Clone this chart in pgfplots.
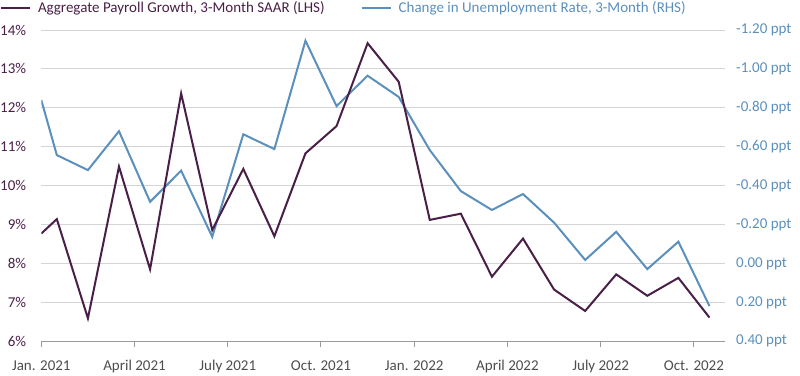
\documentclass[border=0pt]{standalone}
\usepackage{pgfplots}
\pgfplotsset{compat=1.18}
\usepackage{fontspec}
\setmainfont{Carlito}
\definecolor{plum}{HTML}{4A1F47}
\definecolor{steel}{HTML}{5B8FBC}
\definecolor{gridc}{HTML}{D4D4D4}
\definecolor{axc}{HTML}{9A9A9A}
\definecolor{labc}{HTML}{4D4D4D}

\pgfplotstableread{
x y
0 8.77
0.5 9.14
1.5 6.59
2.5 10.49
3.5 7.85
4.5 12.37
5.5 8.86
6.5 10.43
7.5 8.70
8.5 10.83
9.5 11.53
10.5 13.66
11.5 12.67
12.5 9.12
13.5 9.28
14.5 7.66
15.5 8.64
16.5 7.33
17.5 6.78
18.5 7.72
19.5 7.17
20.5 7.63
21.5 6.61
}\payroll

\pgfplotstableread{
x y
0 -0.84
0.5 -0.557
1.5 -0.48
2.5 -0.68
3.5 -0.317
4.5 -0.477
5.5 -0.137
6.5 -0.664
7.5 -0.588
8.5 -1.145
9.5 -0.809
10.5 -0.965
11.5 -0.856
12.5 -0.583
13.5 -0.372
14.5 -0.275
15.5 -0.357
16.5 -0.21
17.5 -0.018
18.5 -0.163
19.5 0.029
20.5 -0.112
21.5 0.219
}\unemp

\begin{document}
\begin{tikzpicture}
\pgfplotsset{
  base/.style={
    scale only axis, width=683.7pt, height=311.3pt,
    at={(0pt,0pt)}, anchor=south west,
    xmin=0, xmax=22,
    tick label style={font=\fontsize{15}{17}\selectfont, inner sep=0pt},
  }
}
% Axis A: left scale, grid, x axis
\begin{axis}[base,
  ymin=6, ymax=14,
  axis x line*=bottom, axis y line*=left,
  y axis line style={draw=none},
  x axis line style={draw=axc, line width=1pt},
  ytick={6,7,...,14},
  yticklabels={6\%,7\%,8\%,9\%,10\%,11\%,12\%,13\%,14\%},
  yticklabel style={text=plum},
  ytick style={draw=none},
  yticklabel shift=9pt,
  xtick={0,3,...,21},
  xticklabels={Jan. 2021,April 2021,July 2021,Oct. 2021,Jan. 2022,April 2022,July 2022,Oct. 2022},
  xticklabel style={text=labc},
  xtick pos=bottom,
  tick align=outside,
  major tick length=6pt,
  xtick style={draw=axc, line width=1pt},
  xticklabel shift=13pt,
  ymajorgrids,
  grid style={draw=gridc, line width=1pt},
  legend style={draw=none, fill=none, inner sep=0pt, outer sep=0pt,
    at={(-0.0604,1.0707)}, anchor=west,
    font=\fontsize{15}{17}\selectfont,
    nodes={inner sep=0pt},
    /tikz/every odd column/.append style={column sep=7pt},
    /tikz/every even column/.append style={column sep=36pt}},
  legend columns=2,
  legend image code/.code={\draw[#1] (0pt,0pt) -- (29pt,0pt);},
]
\addlegendimage{plum, line width=2pt}
\addlegendentry{\textcolor{plum}{Aggregate Payroll Growth, 3-Month SAAR (LHS)}}
\addlegendimage{steel, line width=2pt}
\addlegendentry{\textcolor{steel}{Change in Unemployment Rate, 3-Month (RHS)}}
\end{axis}
% Axis B: right scale, blue series
\begin{axis}[base,
  ymin=-1.2, ymax=0.4, y dir=reverse,
  axis x line=none, xtick=\empty,
  axis y line*=right,
  y axis line style={draw=none},
  ytick={-1.2,-1.0,-0.8,-0.6,-0.4,-0.2,0,0.2,0.4},
  yticklabels={-1.20 ppt,-1.00 ppt,-0.80 ppt,-0.60 ppt,-0.40 ppt,-0.20 ppt,0.00 ppt,0.20 ppt,0.40 ppt},
  yticklabel style={text=steel},
  ytick style={draw=none},
  yticklabel shift=11pt,
]
\addplot[steel, line width=2pt, line join=miter] table[x=x,y=y]{\unemp};
\end{axis}
% Axis C: left scale, purple series on top
\begin{axis}[base, ymin=6, ymax=14, hide axis]
\addplot[plum, line width=2pt, line join=miter] table[x=x,y=y]{\payroll};
\end{axis}
\pgfresetboundingbox
\path (-41.3pt,-33.7pt) rectangle (758.7pt,341.3pt);
\end{tikzpicture}
\end{document}
